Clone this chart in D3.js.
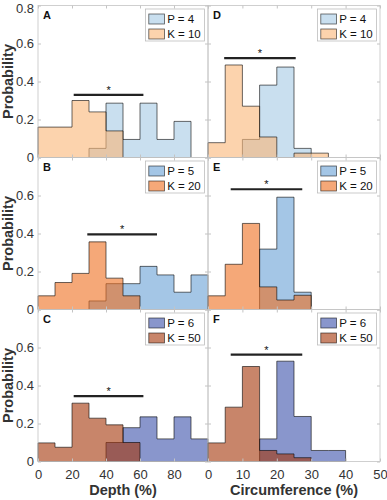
<!DOCTYPE html>
<html>
<head>
<meta charset="utf-8">
<script src="https://cdn.jsdelivr.net/npm/d3@7"></script>
<style>
  body { margin: 0; background: #fff; }
  text { font-family: "Liberation Sans", Arial, Helvetica, sans-serif; }
</style>
</head>
<body>
<div id="chart"></div>
<script>
// Bin edges for the two measures
const depthEdges = [0, 10, 20, 30, 40, 50, 60, 70, 80, 90, 100];
const circEdges = [0, 5, 10, 15, 20, 25, 30, 35, 40, 45, 50];
const depthTicks = [0, 20, 40, 60, 80, 100];
const circTicks = [0, 10, 20, 30, 40, 50];
const probTicks = [0, 0.2, 0.4, 0.6, 0.8];

// Histogram probabilities (one value per bin)
const pA = [0, 0, 0, 0.048, 0.286, 0.095, 0.286, 0.095, 0.19, 0];
const kA = [0.16, 0.16, 0.30, 0.24, 0.14, 0, 0, 0, 0, 0];
const pB = [0, 0, 0, 0.045, 0.136, 0.136, 0.227, 0.182, 0.091, 0.182];
const kB = [0.072, 0.142, 0.19, 0.356, 0.165, 0.072, 0, 0, 0, 0];
const pC = [0, 0, 0, 0, 0.10, 0.178, 0.235, 0.119, 0.235, 0.119];
const kC = [0.098, 0.075, 0.307, 0.228, 0.193, 0.10, 0, 0, 0, 0];
const pD = [0, 0, 0.095, 0.381, 0.476, 0.048, 0, 0, 0, 0];
const kD = [0.078, 0.487, 0.27, 0.108, 0, 0.023, 0.023, 0, 0, 0];
const pE = [0, 0, 0, 0.318, 0.591, 0.091, 0, 0, 0, 0];
const kE = [0.072, 0.238, 0.453, 0.119, 0.05, 0.075, 0, 0, 0, 0];
const pF = [0, 0, 0, 0.119, 0.528, 0.237, 0.058, 0.058, 0, 0];
const kF = [0.098, 0.286, 0.5, 0.058, 0.04, 0.02, 0, 0, 0, 0];

// Significance bars: [from, to, height]
const sigA = [21, 62, 0.33];
const sigB = [29, 70, 0.395];
const sigC = [21, 62, 0.344];
const sigD = [4.7, 25.5, 0.523];
const sigE = [6.6, 27.4, 0.633];
const sigF = [6.6, 27.4, 0.563];

const legend4 = ["P = 4", "K = 10"];
const legend5 = ["P = 5", "K = 20"];
const legend6 = ["P = 6", "K = 50"];

// colours per row (drawn at 0.6 opacity like the original)
const rowColors = [
    { p: "#a5cae4", k: "#fab676" },
    { p: "#67a0d5", k: "#ee6e1e" },
    { p: "#3a50aa", k: "#a33407" }
];

const panels = [
    { id: "A", row: 0, col: 0, p: pA, k: kA, sig: sigA, legend: legend4 },
    { id: "B", row: 1, col: 0, p: pB, k: kB, sig: sigB, legend: legend5 },
    { id: "C", row: 2, col: 0, p: pC, k: kC, sig: sigC, legend: legend6 },
    { id: "D", row: 0, col: 1, p: pD, k: kD, sig: sigD, legend: legend4 },
    { id: "E", row: 1, col: 1, p: pE, k: kE, sig: sigE, legend: legend5 },
    { id: "F", row: 2, col: 1, p: pF, k: kF, sig: sigF, legend: legend6 }
];

// Layout
const colX = [[38, 208], [208, 380]];
const rowTop = [5.5, 157.5, 309.5];
const panelH = 152;
const axisColor = "#c4c4c4";
const textColor = "#333";

let svg = d3.select("#chart").append("svg")
    .attr("width", 387)
    .attr("height", 500);

// turn bin values into step points (trim empty ends)
function stepPoints(edges, vals) {
    let first = vals.findIndex(v => v > 0);
    let last = vals.length - 1 - [...vals].reverse().findIndex(v => v > 0);
    let pts = [];
    for (let i = first; i <= last; i++) pts.push({ x: edges[i], y: vals[i] });
    pts.push({ x: edges[last + 1], y: vals[last] });
    return pts;
}

panels.forEach(pan => {
    let [x0, x1] = colX[pan.col];
    let top = rowTop[pan.row];
    let bottom = top + panelH;
    let isDepth = pan.col === 0;
    let edges = isDepth ? depthEdges : circEdges;

    let x = d3.scaleLinear().domain([0, isDepth ? 100 : 50]).range([x0, x1]);
    let y = d3.scaleLinear().domain([0, 0.8]).range([bottom, top]);

    let g = svg.append("g");

    let area = d3.area()
        .curve(d3.curveStepAfter)
        .x(d => x(d.x))
        .y0(y(0))
        .y1(d => y(d.y));

    // P first, K over it
    [["p", pan.p], ["k", pan.k]].forEach(([key, vals]) => {
        g.append("path")
            .datum(stepPoints(edges, vals))
            .attr("d", area)
            .attr("fill", rowColors[pan.row][key])
            .attr("fill-opacity", 0.6)
            .attr("stroke", "#000")
            .attr("stroke-opacity", 0.65)
            .attr("stroke-width", 0.9);
    });

    // Box
    g.append("rect")
        .attr("x", x0).attr("y", top)
        .attr("width", x1 - x0).attr("height", panelH)
        .attr("fill", "none")
        .attr("stroke", axisColor)
        .attr("stroke-width", 0.8);

    // Axes with inward ticks
    let yLeft = d3.axisLeft(y).tickValues(probTicks).tickSize(-3).tickSizeOuter(0).tickPadding(4)
        .tickFormat(d => (pan.col === 0 && (d < 0.8 || pan.row === 0)) ? d3.format("~g")(d) : "");
    let yRight = d3.axisRight(y).tickValues(probTicks).tickSize(-3).tickSizeOuter(0).tickFormat("");
    let xTicks = isDepth ? depthTicks : circTicks;
    let xBottom = d3.axisBottom(x).tickValues(xTicks).tickSize(-3).tickSizeOuter(0).tickPadding(8)
        .tickFormat(d => (pan.row === 2 && !(isDepth && d === 100)) ? d : "");
    let xTop = d3.axisTop(x).tickValues(xTicks).tickSize(-3).tickSizeOuter(0).tickFormat("");

    [[yLeft, `translate(${x0},0)`], [yRight, `translate(${x1},0)`],
     [xBottom, `translate(0,${bottom})`], [xTop, `translate(0,${top})`]].forEach(([ax, tr]) => {
        let a = g.append("g").attr("transform", tr).call(ax);
        a.select(".domain").remove();
        a.selectAll("line").attr("stroke", axisColor);
        a.selectAll("text").attr("fill", textColor).style("font-size", "13px");
    });
    // keep the top "0.8" label inside the page
    g.selectAll(".tick text").filter(d => d === 0.8).attr("dy", "0.55em");

    // Panel letter
    g.append("text")
        .attr("x", x0 + 5).attr("y", top + 13.5)
        .text(pan.id)
        .style("font-size", "11px")
        .style("font-weight", "bold")
        .attr("fill", "#111");

    // Significance bar and star
    g.append("line")
        .attr("x1", x(pan.sig[0])).attr("x2", x(pan.sig[1]))
        .attr("y1", y(pan.sig[2])).attr("y2", y(pan.sig[2]))
        .attr("stroke", "#222")
        .attr("stroke-width", 2.2);
    g.append("text")
        .attr("x", x((pan.sig[0] + pan.sig[1]) / 2))
        .attr("y", y(pan.sig[2]) - 1)
        .attr("text-anchor", "middle")
        .style("font-size", "11px")
        .attr("fill", "#111")
        .text("*");

    // Legend
    let lw = 59, lh = 32;
    let lg = g.append("g").attr("transform", `translate(${x1 - 3.5 - lw},${top + 3.5})`);
    lg.append("rect")
        .attr("width", lw).attr("height", lh)
        .attr("fill", "#fff")
        .attr("stroke", "#bdbdbd")
        .attr("stroke-width", 0.8);
    ["p", "k"].forEach((key, i) => {
        lg.append("rect")
            .attr("x", 3.3).attr("y", 5 + i * 15)
            .attr("width", 15.7).attr("height", 10)
            .attr("fill", rowColors[pan.row][key])
            .attr("fill-opacity", 0.6)
            .attr("stroke", "#000")
            .attr("stroke-opacity", 0.65)
            .attr("stroke-width", 0.8);
        lg.append("text")
            .attr("x", 21.7).attr("y", 14 + i * 15)
            .text(pan.legend[i])
            .style("font-size", "11.5px")
            .attr("fill", "#111");
    });

    // Y label on left column
    if (pan.col === 0) {
        svg.append("text")
            .attr("transform", `translate(13,${top + panelH / 2}) rotate(-90)`)
            .attr("text-anchor", "middle")
            .style("font-size", "14.5px")
            .style("font-weight", "bold")
            .attr("fill", textColor)
            .text("Probability");
    }
    // X label on bottom row
    if (pan.row === 2) {
        svg.append("text")
            .attr("x", (x0 + x1) / 2).attr("y", 495)
            .attr("text-anchor", "middle")
            .style("font-size", "14.5px")
            .style("font-weight", "bold")
            .attr("fill", textColor)
            .text(isDepth ? "Depth (%)" : "Circumference (%)");
    }
});
</script>
</body>
</html>
